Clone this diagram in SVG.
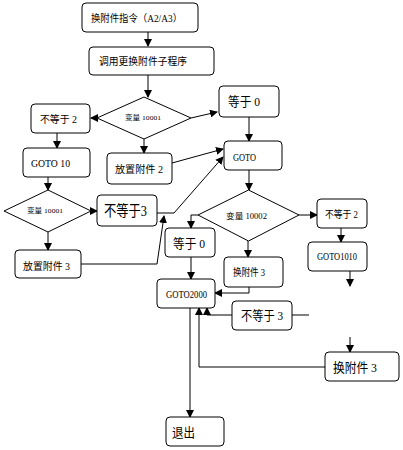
<svg xmlns="http://www.w3.org/2000/svg" width="403" height="450" viewBox="0 0 403 450">
<defs>
<marker id="a" markerWidth="8" markerHeight="8" refX="7" refY="4" orient="auto" markerUnits="userSpaceOnUse">
<path d="M0,0 L8,4 L0,8 Z" fill="#000"/>
</marker>
<style>
.b{fill:#fff;stroke:#000;stroke-width:1}
.l{fill:none;stroke:#000;stroke-width:1;marker-end:url(#a)}
.n{fill:none;stroke:#000;stroke-width:1}
text{font-family:"Liberation Serif","Noto Sans CJK SC",serif;fill:#000;dominant-baseline:central}
.s{font-size:10px}
.t{font-size:7px}
.m{font-size:13px}
.g{font-size:15px}
</style>
</defs>
<rect width="403" height="450" fill="#fff"/>
<g id="connectors">
<path class="l" d="M148,32 V46"/>
<path class="l" d="M148,75 V97"/>
<path class="l" d="M97,118 H91"/>
<path class="l" d="M191,118 L217,112"/>
<path class="l" d="M249,117 V141"/>
<path class="l" d="M144,139 V153"/>
<path class="l" d="M57,133 V148"/>
<path class="l" d="M48,177 V190"/>
<path class="l" d="M91,211 H97"/>
<path class="l" d="M48,232 V250"/>
<path class="l" d="M172,163 L223,149"/>
<path class="l" d="M157,213 H174 L223,157"/>
<path class="l" d="M81,264 H157 L164,216"/>
<path class="l" d="M249,170 V190"/>
<path class="l" d="M299,215 H317"/>
<path class="l" d="M341,228 V242"/>
<path class="l" d="M350,271 V286"/>
<path class="l" d="M198,215 H191 V228"/>
<path class="l" d="M248,241 V257"/>
<path class="l" d="M191,257 V279"/>
<path class="l" d="M249,287 V293 H215"/>
<path class="l" d="M232,315 H207 V308"/>
<path class="n" d="M292,315 H309"/>
<path class="l" d="M325,367 H199 V308"/>
<path class="l" d="M350,337 V352"/>
<path class="l" d="M190,308 V417"/>
</g>
<g id="n1"><rect class="b" x="82" y="3" width="116" height="29" rx="4"/><text class="s" x="91" y="18" textLength="91" lengthAdjust="spacingAndGlyphs">换附件指令（A2/A3）</text></g>
<g id="n2"><rect class="b" x="89" y="47" width="125" height="28" rx="4"/><text class="s" x="99" y="61" textLength="88" lengthAdjust="spacingAndGlyphs">调用更换附件子程序</text></g>
<g id="d1"><path class="b" d="M144,97 L191,118 L144,139 L97,118 Z"/><text class="t" x="125" y="118" textLength="36" lengthAdjust="spacingAndGlyphs">变量 10001</text></g>
<g id="n3"><rect class="b" x="31" y="104" width="59" height="29" rx="4"/><text class="s" x="40" y="119" textLength="37" lengthAdjust="spacingAndGlyphs">不等于 2</text></g>
<g id="n4"><rect class="b" x="219" y="86" width="60" height="31" rx="4"/><text class="m" x="228" y="101" textLength="32" lengthAdjust="spacingAndGlyphs">等于 0</text></g>
<g id="n5"><rect class="b" x="224" y="141" width="58" height="29" rx="4"/><text class="s" x="233" y="157" textLength="23" lengthAdjust="spacingAndGlyphs">GOTO</text></g>
<g id="n6"><rect class="b" x="107" y="153" width="65" height="31" rx="4"/><text class="s" x="115" y="169" textLength="48" lengthAdjust="spacingAndGlyphs">放置附件 2</text></g>
<g id="n7"><rect class="b" x="23" y="148" width="67" height="29" rx="4"/><text class="s" x="31" y="163" textLength="39" lengthAdjust="spacingAndGlyphs">GOTO 10</text></g>
<g id="d3"><path class="b" d="M48,190 L91,211 L48,232 L4,211 Z"/><text class="t" x="27" y="211" textLength="36" lengthAdjust="spacingAndGlyphs">变量 10001</text></g>
<g id="n8"><rect class="b" x="97" y="195" width="60" height="31" rx="4"/><text class="g" x="104" y="211" textLength="43" lengthAdjust="spacingAndGlyphs">不等于3</text></g>
<g id="n9"><rect class="b" x="15" y="250" width="66" height="28" rx="4"/><text class="s" x="23" y="266" textLength="47" lengthAdjust="spacingAndGlyphs">放置附件 3</text></g>
<g id="d2"><path class="b" d="M248.5,190 L299,215 L248.5,241 L198,215 Z"/><text class="t" x="226" y="216" textLength="41" lengthAdjust="spacingAndGlyphs" style="font-size:8px">变量 10002</text></g>
<g id="n10"><rect class="b" x="317" y="199" width="50" height="29" rx="4"/><text class="s" x="325" y="214" textLength="33" lengthAdjust="spacingAndGlyphs">不等于 2</text></g>
<g id="n11"><rect class="b" x="308" y="242" width="59" height="29" rx="4"/><text class="s" x="317" y="256" textLength="40" lengthAdjust="spacingAndGlyphs">GOTO1010</text></g>
<g id="n12"><rect class="b" x="165" y="228" width="50" height="29" rx="4"/><text class="m" x="173" y="243" textLength="32" lengthAdjust="spacingAndGlyphs">等于 0</text></g>
<g id="n13"><rect class="b" x="224" y="257" width="59" height="30" rx="4"/><text class="s" x="233" y="272" textLength="32" lengthAdjust="spacingAndGlyphs">换附件 3</text></g>
<g id="n14"><rect class="b" x="157" y="279" width="58" height="29" rx="4"/><text class="s" x="166" y="294" textLength="41" lengthAdjust="spacingAndGlyphs">GOTO2000</text></g>
<g id="n15"><rect class="b" x="232" y="301" width="60" height="29" rx="4"/><text class="m" x="241" y="315" textLength="42" lengthAdjust="spacingAndGlyphs">不等于 3</text></g>
<g id="n16"><rect class="b" x="325" y="352" width="74" height="29" rx="4"/><text class="m" x="333" y="367" textLength="44" lengthAdjust="spacingAndGlyphs">换附件 3</text></g>
<g id="n17"><rect class="b" x="166" y="417" width="58" height="29" rx="4"/><text class="m" x="172" y="432" textLength="23" lengthAdjust="spacingAndGlyphs">退出</text></g>
</svg>
